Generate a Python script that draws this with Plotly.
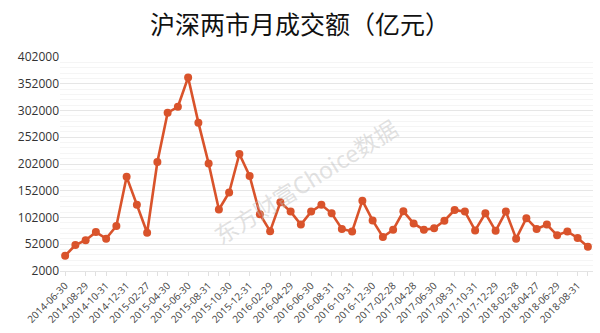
import plotly.graph_objects as go

dates = [
    "2014-06-30", "2014-07-31", "2014-08-29", "2014-09-30", "2014-10-31", "2014-11-28",
    "2014-12-31", "2015-01-30", "2015-02-27", "2015-03-31", "2015-04-30", "2015-05-29",
    "2015-06-30", "2015-07-31", "2015-08-31", "2015-09-30", "2015-10-30", "2015-11-30",
    "2015-12-31", "2016-01-29", "2016-02-29", "2016-03-31", "2016-04-29", "2016-05-31",
    "2016-06-30", "2016-07-29", "2016-08-31", "2016-09-30", "2016-10-31", "2016-11-30",
    "2016-12-30", "2017-01-26", "2017-02-28", "2017-03-31", "2017-04-28", "2017-05-31",
    "2017-06-30", "2017-07-31", "2017-08-31", "2017-09-29", "2017-10-31", "2017-11-30",
    "2017-12-29", "2018-01-31", "2018-02-28", "2018-03-30", "2018-04-27", "2018-05-31",
    "2018-06-29", "2018-07-31", "2018-08-31", "2018-09-28",
]

turnover = [
    30500, 50500, 59600, 74700, 62500, 86200,
    178000, 125600, 73500, 205600, 297800, 309000,
    363800, 279300, 203000, 117000, 148700, 220700,
    179600, 108000, 76500, 130500, 113000, 88700,
    113000, 125600, 109800, 80700, 76000, 133500,
    96500, 65600, 78900, 113500, 91000, 78900,
    82000, 96000, 116000, 113000, 77800, 109800,
    77100, 113000, 62500, 100700, 80700, 88700,
    68700, 76000, 63800, 47500,
]

tick_labels = dates[::2]
y_ticks = [2000, 52000, 102000, 152000, 202000, 252000, 302000, 352000, 402000]
y_tick_text = [str(v) for v in y_ticks]

line_color = "#D9532B"

fig = go.Figure()
fig.add_trace(go.Scatter(
    x=dates, y=turnover, mode="lines+markers",
    line=dict(color=line_color, width=2.6),
    marker=dict(color=line_color, size=8),
    showlegend=False,
))

fig.update_layout(
    width=600, height=333,
    margin=dict(l=60, r=7, t=57, b=56),
    paper_bgcolor="white", plot_bgcolor="white",
    title=dict(
        text="沪深两市月成交额（亿元）",
        x=0.5, xanchor="center", y=0.925, yanchor="middle",
        font=dict(family="Noto Sans CJK SC", size=25, color="#111111"),
    ),
    font=dict(family="Open Sans, Noto Sans CJK SC", color="#333333"),
)

fig.update_xaxes(
    type="category",
    range=[-0.5, len(dates) - 0.5],
    tickmode="array", tickvals=tick_labels, ticktext=tick_labels,
    tickangle=-45, tickfont=dict(size=10, color="#444444"),
    showgrid=False, showline=True, linecolor="#e4e4e4", linewidth=1,
    ticks="outside", ticklen=4, tickcolor="#e0e0e0",
    minor=dict(ticks="outside", ticklen=4, tickcolor="#e0e0e0", showgrid=False),
)

fig.update_yaxes(
    range=[2000, 402000],
    tickmode="array", tickvals=y_ticks, ticktext=y_tick_text,
    tickfont=dict(size=12, color="#333333"),
    showgrid=True, gridcolor="#e6e6e6", gridwidth=1,
    zeroline=False, showline=False, ticks="",
    minor=dict(tick0=2000, dtick=10000, showgrid=True, gridcolor="#f5f5f5", gridwidth=1),
)

fig.add_annotation(
    text="东方财富Choice数据", xref="paper", yref="paper",
    x=0.46, y=0.42, showarrow=False, textangle=-32,
    font=dict(family="Noto Sans CJK SC", size=23, color="rgba(190,190,190,0.45)"),
)

fig.write_html("out.html")
